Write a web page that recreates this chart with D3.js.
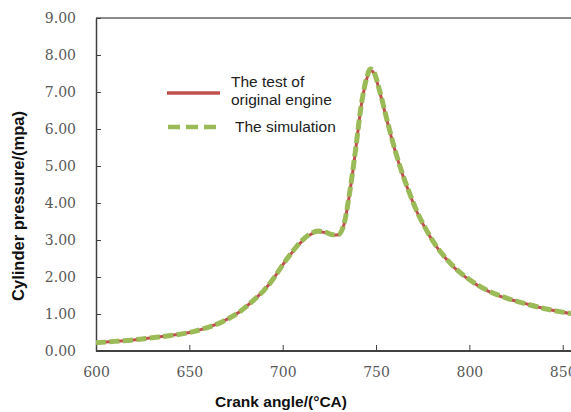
<!DOCTYPE html>
<html>
<head>
<meta charset="utf-8">
<script src="https://cdn.jsdelivr.net/npm/d3@7"></script>
<style>
  body { margin: 0; background: #fff; }
  svg { display: block; }
</style>
</head>
<body>
<svg id="chart" width="571" height="412"></svg>
<script>
// crank angle (°CA) and cylinder pressure (MPa)
const angles = [600, 610, 620, 630, 640, 650, 660, 668, 677, 685, 690, 695, 700, 705, 710, 715, 719, 723, 727, 730,
    733, 736, 739, 742, 745, 747, 749, 752, 756, 760, 764, 768, 772, 776, 780, 786, 792, 800, 810, 820, 830, 840, 850, 860];
const testPressure = [0.22, 0.26, 0.30, 0.36, 0.42, 0.50, 0.64, 0.80, 1.06, 1.40, 1.64, 1.95, 2.33, 2.66, 2.95, 3.15, 3.22, 3.20, 3.13, 3.14,
    3.45, 4.30, 5.40, 6.60, 7.35, 7.58, 7.50, 7.00, 6.20, 5.45, 4.80, 4.25, 3.75, 3.35, 3.00, 2.58, 2.25, 1.92, 1.62, 1.42, 1.28, 1.15, 1.05, 0.97];
const simPressure = [0.22, 0.26, 0.30, 0.36, 0.42, 0.50, 0.64, 0.80, 1.06, 1.40, 1.64, 1.95, 2.33, 2.67, 2.97, 3.17, 3.24, 3.21, 3.14, 3.15,
    3.46, 4.32, 5.42, 6.62, 7.38, 7.62, 7.52, 7.02, 6.22, 5.46, 4.81, 4.26, 3.76, 3.36, 3.01, 2.59, 2.26, 1.93, 1.63, 1.43, 1.28, 1.15, 1.05, 0.97];
const xTicks = [600, 650, 700, 750, 800, 850];
const yTicks = [0, 1, 2, 3, 4, 5, 6, 7, 8, 9];
const legendLabels = [["The test of", "original engine"], ["The simulation"]];

const RED = '#c0504d';
const GREEN = '#9bbb59';

const svg = d3.select('#chart');
const width = +svg.attr('width');
const height = +svg.attr('height');

const x = d3.scaleLinear().domain([600, 850]).range([96, 562.7]);
const y = d3.scaleLinear().domain([0, 9]).range([351, 18]);

svg.append('clipPath').attr('id', 'plot-clip')
    .append('rect')
    .attr('x', x(600)).attr('y', y(9))
    .attr('width', width - x(600)).attr('height', y(0) - y(9));

// top frame line
svg.append('line')
    .attr('x1', x(600)).attr('x2', width)
    .attr('y1', y(9)).attr('y2', y(9))
    .attr('stroke', '#8c8c8c')
    .attr('stroke-width', 2);

// y axis
const yAxis = svg.append('g')
    .attr('transform', `translate(${x(600)},0)`)
    .call(d3.axisLeft(y).tickValues(yTicks).tickFormat(d3.format('.2f')).tickSizeInner(-5).tickSizeOuter(0).tickPadding(20));
yAxis.select('.domain').attr('stroke', '#404040').attr('stroke-width', 1.5);
yAxis.selectAll('.tick line').attr('stroke', '#404040');
yAxis.selectAll('.tick text')
    .attr('fill', '#595959')
    .style('font-family', '"DejaVu Serif", serif')
    .style('font-size', '14px');

// x axis
const xAxis = svg.append('g')
    .attr('transform', `translate(0,${y(0)})`)
    .call(d3.axisBottom(x).tickValues(xTicks).tickFormat(d3.format('d')).tickSizeInner(-6).tickSizeOuter(0).tickPadding(16));
xAxis.select('.domain').attr('d', `M${x(600)},0H${width}`).attr('stroke', '#404040').attr('stroke-width', 2);
xAxis.selectAll('.tick line').attr('stroke', '#404040');
xAxis.selectAll('.tick text')
    .attr('fill', '#595959')
    .style('font-family', '"DejaVu Serif", serif')
    .style('font-size', '14px');

// axis titles
svg.append('text')
    .attr('x', 281).attr('y', 407)
    .attr('text-anchor', 'middle')
    .style('font-family', '"Liberation Sans", Arial, sans-serif')
    .style('font-weight', 'bold')
    .style('font-size', '15.5px')
    .attr('fill', '#111')
    .text('Crank angle/(°CA)');

svg.append('text')
    .attr('transform', 'translate(24,206) rotate(-90)')
    .attr('text-anchor', 'middle')
    .style('font-family', '"Liberation Sans", Arial, sans-serif')
    .style('font-weight', 'bold')
    .style('font-size', '16.5px')
    .attr('fill', '#111')
    .text('Cylinder pressure/(mpa)');

// curves
const line = d3.line()
    .x(d => x(d[0]))
    .y(d => y(d[1]))
    .curve(d3.curveMonotoneX);

const plot = svg.append('g').attr('clip-path', 'url(#plot-clip)');

plot.append('path')
    .datum(angles.map((a, i) => [a, testPressure[i]]))
    .attr('d', line)
    .attr('fill', 'none')
    .attr('stroke', RED)
    .attr('stroke-width', 3);

plot.append('path')
    .datum(angles.map((a, i) => [a, simPressure[i]]))
    .attr('d', line)
    .attr('fill', 'none')
    .attr('stroke', GREEN)
    .attr('stroke-width', 5)
    .attr('stroke-dasharray', '10,3.5');

// legend
const legend = svg.append('g');
legend.append('line')
    .attr('x1', 167).attr('x2', 220).attr('y1', 93).attr('y2', 93)
    .attr('stroke', RED).attr('stroke-width', 3.5);
legend.append('line')
    .attr('x1', 168).attr('x2', 216).attr('y1', 127).attr('y2', 127)
    .attr('stroke', GREEN).attr('stroke-width', 4.5)
    .attr('stroke-dasharray', '12,6');

const legendText = legend.append('g')
    .style('font-family', '"Liberation Sans", Arial, sans-serif')
    .style('font-size', '15.5px')
    .attr('fill', '#222');
legendText.append('text').attr('x', 231).attr('y', 87).text(legendLabels[0][0]);
legendText.append('text').attr('x', 231).attr('y', 105).text(legendLabels[0][1]);
legendText.append('text').attr('x', 235).attr('y', 132).text(legendLabels[1][0]);
</script>
</body>
</html>
